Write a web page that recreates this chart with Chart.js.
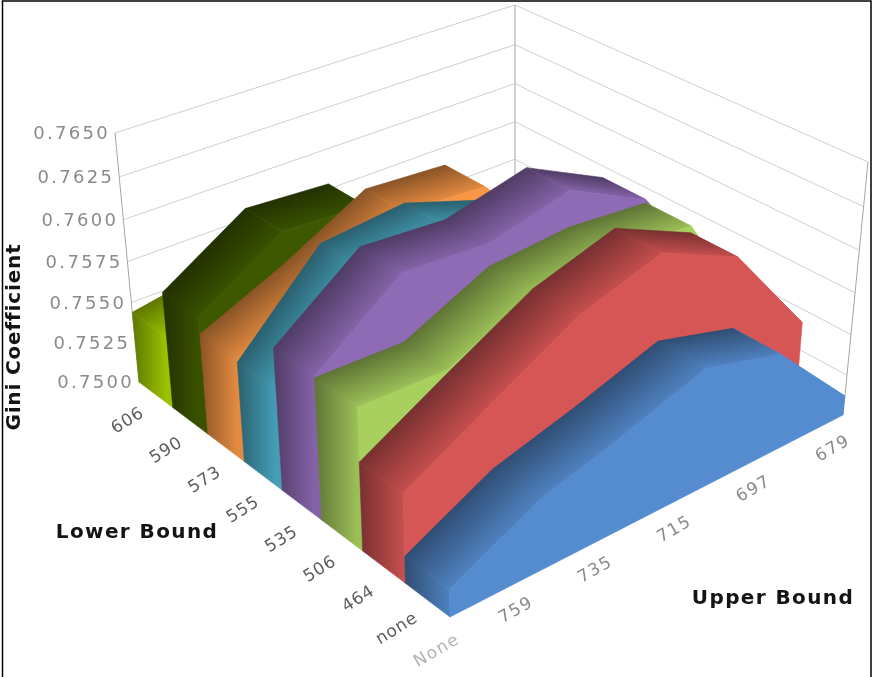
<!DOCTYPE html>
<html>
<head>
<meta charset="utf-8">
<title>Gini Coefficient by Lower and Upper Bound</title>
<style>
  html, body { margin: 0; padding: 0; background: #fff; }
  canvas { display: block; }
</style>
<script src="https://cdn.jsdelivr.net/npm/chart.js@4"></script>
</head>
<body>
<canvas id="chart" width="873" height="677"></canvas>
<script>
// Category and tick labels
const upperBounds = ['None', '759', '735', '715', '697', '679'];
const lowerBounds = ['none', '464', '506', '535', '555', '573', '590', '606'];
const giniTicks = [0.75, 0.7525, 0.755, 0.7575, 0.76, 0.7625, 0.765];

// Gini coefficient per upper bound, one list per lower bound (front row first)
const seriesNone = [0.7516, 0.7542, 0.7556, 0.7572, 0.7559, 0.7512];
const series464  = [0.7552, 0.7580, 0.7607, 0.7622, 0.7601, 0.7542];
const series506  = [0.7583, 0.7582, 0.7605, 0.7609, 0.7605, 0.7530];
const series535  = [0.7584, 0.7621, 0.7618, 0.7630, 0.7607, 0.7540];
const series555  = [0.7560, 0.7609, 0.7614, 0.7598, 0.7585, 0.7540];
const series573  = [0.7561, 0.7583, 0.7609, 0.7606, 0.7555, 0.7525];
const series590  = [0.7571, 0.7602, 0.7599, 0.7550, 0.7540, 0.7520];
const series606  = [0.7544, 0.7553, 0.7555, 0.7530, 0.7520, 0.7510];
const seriesValues = [seriesNone, series464, series506, series535, series555, series573, series590, series606];
const seriesColors = [[85, 140, 208], [214, 85, 85], [168, 208, 95], [143, 107, 181],
                      [75, 172, 198], [247, 150, 70], [62, 88, 0], [170, 212, 0]];

// Box corners of the perspective view: floor and ceiling, ordered
// front, right, back, left.
const floorQuad = [[450, 617], [843, 415], [515, 232], [139, 382]];
const topQuad   = [[447, 341], [868, 162], [515, 5], [115, 133]];
const verticalVanishY = 4005;

function squareToQuad(q) {
  const [[x0, y0], [x1, y1], [x2, y2], [x3, y3]] = q;
  const dx1 = x1 - x2, dx2 = x3 - x2, sx = x0 - x1 + x2 - x3;
  const dy1 = y1 - y2, dy2 = y3 - y2, sy = y0 - y1 + y2 - y3;
  const den = dx1 * dy2 - dx2 * dy1;
  const g = (sx * dy2 - dx2 * sy) / den;
  const h = (dx1 * sy - sx * dy1) / den;
  const a = x1 - x0 + g * x1, b = x3 - x0 + h * x3;
  const d = y1 - y0 + g * y1, e = y3 - y0 + h * y3;
  return (u, v) => {
    const k = g * u + h * v + 1;
    return { x: (a * u + b * v + x0) / k, y: (d * u + e * v + y0) / k };
  };
}
const floorMap = squareToQuad(floorQuad);
const topMap = squareToQuad(topQuad);

// u: along the upper bound axis, w: along the lower bound axis, t: height, all 0..1
function project(u, w, t) {
  const f = floorMap(u, w), g = topMap(u, w);
  const c = (g.y - f.y) / (verticalVanishY - g.y);
  const s = t * (1 + c) / (1 + t * c);
  return { x: f.x + s * (g.x - f.x), y: f.y + s * (g.y - f.y) };
}

function rgb(color, k) {
  return `rgb(${color.map(v => Math.round(v * k)).join(',')})`;
}

function polygon(ctx, pts) {
  ctx.beginPath();
  pts.forEach((p, i) => (i ? ctx.lineTo(p.x, p.y) : ctx.moveTo(p.x, p.y)));
  ctx.closePath();
}

function paint(ctx, pts, style) {
  polygon(ctx, pts);
  ctx.fillStyle = style;
  ctx.strokeStyle = style;
  ctx.lineWidth = 0.6;
  ctx.fill();
  ctx.stroke();
}

// Line controller that extrudes each dataset into a ribbon along the depth axis.
// Point positions come from the parsed elements laid out by the x and y scales.
class RibbonController extends Chart.LineController {
  draw() {
    const { ctx, chartArea: area } = this.chart;
    const points = this._cachedMeta.data;
    const values = this.getDataset().data;
    const color = this.getDataset().baseColor;
    const w0 = this.index / lowerBounds.length;
    const w1 = (this.index + 1) / lowerBounds.length;
    const uv = points.map(p => ({
      u: (p.x - area.left) / area.width,
      t: (area.bottom - p.y) / area.height
    }));
    const front = uv.map(p => project(p.u, w0, p.t));
    const back = uv.map(p => project(p.u, w1, p.t));
    const darkStop = 0.56, lightStop = 0.92;

    ctx.save();
    // Top surface, far segments first
    for (let j = uv.length - 2; j >= 0; j--) {
      const a = back[j], b = back[j + 1], c = front[j + 1], d = front[j];
      const mx0 = (a.x + b.x) / 2, my0 = (a.y + b.y) / 2;
      const mx1 = (c.x + d.x) / 2, my1 = (c.y + d.y) / 2;
      const len = Math.hypot(b.x - a.x, b.y - a.y) || 1;
      const nx = -(b.y - a.y) / len, ny = (b.x - a.x) / len;
      const dist = (mx1 - mx0) * nx + (my1 - my0) * ny;
      const grad = ctx.createLinearGradient(mx0, my0, mx0 + nx * dist, my0 + ny * dist);
      const falling = values[j + 1] - values[j] < -0.003;
      grad.addColorStop(0, rgb(color, falling ? 0.94 : darkStop));
      grad.addColorStop(1, rgb(color, falling ? 1 : lightStop));
      paint(ctx, [a, b, c, d], grad);
    }
    // End cap at the first category, shaded to run on from the top surface
    const capFloorBack = project(uv[0].u, w1, 0);
    const capFloorFront = project(uv[0].u, w0, 0);
    const capGrad = ctx.createLinearGradient(back[0].x, 0, front[0].x, 0);
    capGrad.addColorStop(0, rgb(color, darkStop));
    capGrad.addColorStop(1, rgb(color, lightStop));
    paint(ctx, [back[0], front[0], capFloorFront, capFloorBack], capGrad);
    // Front face
    const facePts = front.concat([project(uv[uv.length - 1].u, w0, 0), capFloorFront]);
    paint(ctx, facePts, rgb(color, 1));
    ctx.restore();
  }
}
RibbonController.id = 'ribbon';
Chart.register(RibbonController);

function line(ctx, a, b) {
  ctx.beginPath();
  ctx.moveTo(a.x, a.y);
  ctx.lineTo(b.x, b.y);
  ctx.stroke();
}

function rotatedText(ctx, text, x, y, angle) {
  ctx.save();
  ctx.translate(x, y);
  ctx.rotate(angle);
  ctx.fillText(text, 0, 0);
  ctx.restore();
}

const wallsAndLabels = {
  id: 'wallsAndLabels',
  beforeDatasetsDraw(chart) {
    const { ctx, chartArea: area, scales: { y } } = chart;
    ctx.save();
    ctx.lineWidth = 1;
    ctx.strokeStyle = '#cfcfcf';
    giniTicks.forEach(v => {
      const t = (area.bottom - y.getPixelForValue(v)) / area.height;
      line(ctx, project(0, 1, t), project(1, 1, t));
      line(ctx, project(1, 1, t), project(1, 0, t));
    });
    ctx.strokeStyle = '#a6a6a6';
    [[0, 1], [1, 1], [1, 0]].forEach(([u, w]) => line(ctx, project(u, w, 0), project(u, w, 1)));
    ctx.restore();
  },
  afterDatasetsDraw(chart) {
    const { ctx, chartArea: area, scales: { y } } = chart;
    ctx.save();
    ctx.textBaseline = 'middle';

    // Gini ticks, set against the left edge of the box
    ctx.font = '18px "DejaVu Sans"';
    ctx.letterSpacing = '2.3px';
    ctx.fillStyle = '#8a8a8a';
    ctx.textAlign = 'right';
    giniTicks.forEach(v => {
      const t = (area.bottom - y.getPixelForValue(v)) / area.height;
      const p = project(0, 1, t);
      ctx.fillText(v.toFixed(4), p.x - 5, p.y + 1.5);
    });

    // Depth and category tick labels, evenly spaced along the floor edges
    ctx.textAlign = 'center';
    ctx.font = '17px "DejaVu Sans"';
    ctx.letterSpacing = '0.8px';
    ctx.fillStyle = '#5c5c5c';
    const lastRow = lowerBounds.length - 1;
    lowerBounds.forEach((label, i) => {
      const f = (lastRow - i) / lastRow;
      rotatedText(ctx, label, 128 + 269 * f, 421 + 208 * f, -0.56);
    });
    ctx.letterSpacing = '1.4px';
    const lastCol = upperBounds.length - 1;
    upperBounds.forEach((label, j) => {
      const f = j / lastCol;
      ctx.fillStyle = j === 0 ? '#b4b4b4' : '#8a8a8a';
      rotatedText(ctx, label, 437 + 396 * f, 651 - 202 * f, -0.52);
    });

    // Axis titles
    ctx.font = 'bold 20px "DejaVu Sans"';
    ctx.fillStyle = '#141414';
    ctx.letterSpacing = '1.4px';
    ctx.fillText('Lower Bound', 137, 533);
    ctx.fillText('Upper Bound', 773, 599);
    ctx.letterSpacing = '0.85px';
    rotatedText(ctx, 'Gini Coefficient', 15, 337, -Math.PI / 2);
    ctx.letterSpacing = '0px';

    // Outer frame
    ctx.strokeStyle = '#000';
    ctx.lineWidth = 1.5;
    ctx.beginPath();
    ctx.moveTo(2.5, 677);
    ctx.lineTo(2.5, 1);
    ctx.lineTo(871, 1);
    ctx.lineTo(871, 677);
    ctx.stroke();
    ctx.restore();
  }
};

new Chart(document.getElementById('chart'), {
  type: 'ribbon',
  data: {
    labels: upperBounds,
    datasets: lowerBounds.map((label, i) => ({
      label,
      data: seriesValues[i],
      baseColor: seriesColors[i],
      pointRadius: 0,
      borderWidth: 0,
      fill: false
    }))
  },
  options: {
    responsive: false,
    animation: false,
    layout: { padding: 0 },
    plugins: { legend: { display: false }, title: { display: false }, tooltip: { enabled: false } },
    scales: {
      x: { type: 'category', display: false, offset: false },
      y: { type: 'linear', display: false, min: 0.75, max: 0.765 }
    }
  },
  plugins: [wallsAndLabels]
});
</script>
</body>
</html>
